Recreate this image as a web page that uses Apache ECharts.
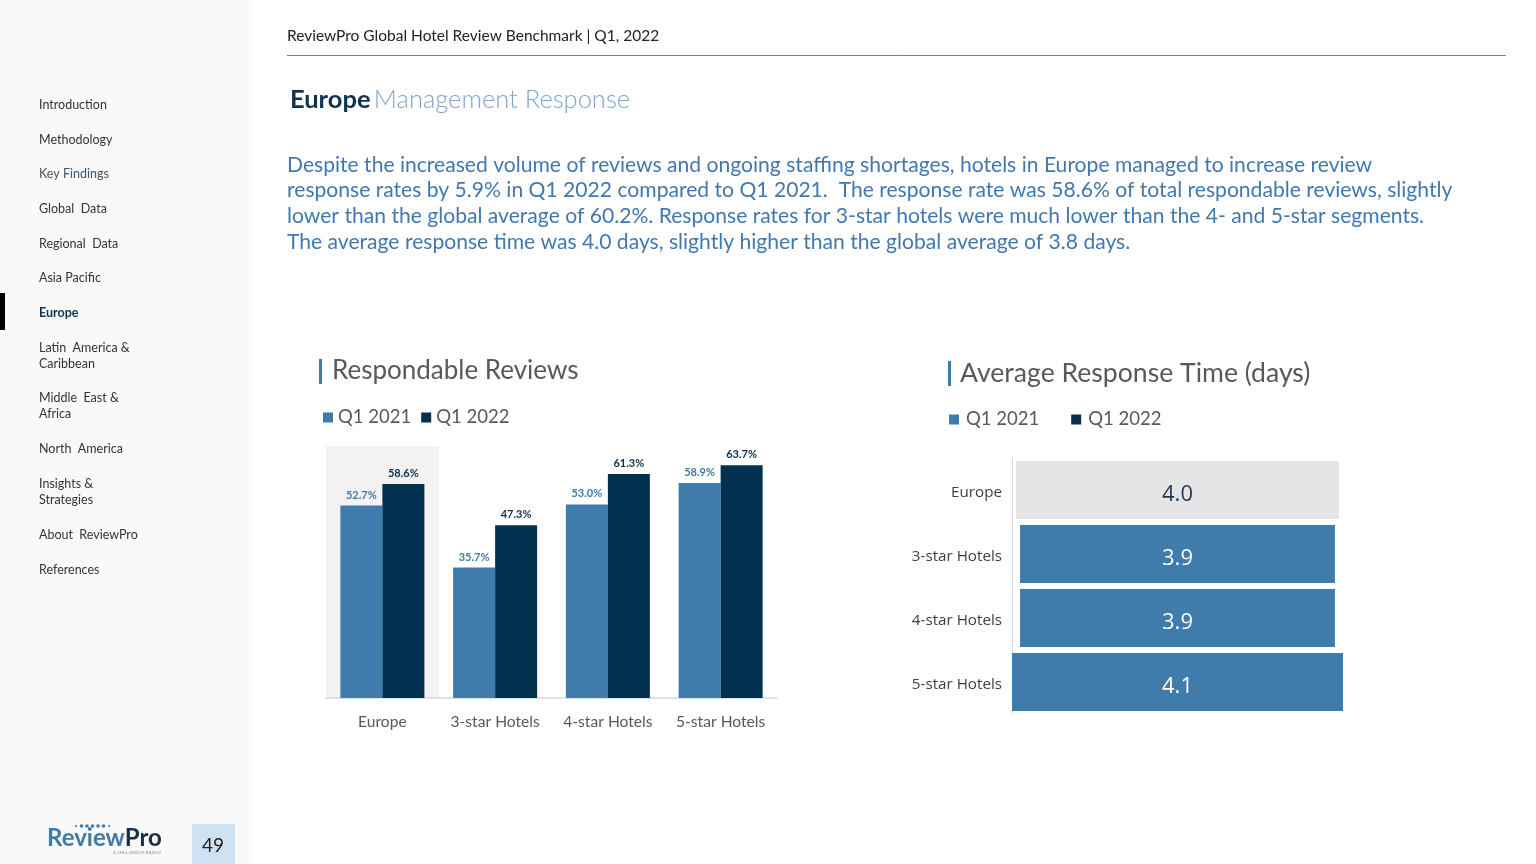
<!DOCTYPE html>
<html>
<head>
<meta charset="utf-8">
<script src="https://cdn.jsdelivr.net/npm/echarts@6/dist/echarts.min.js"></script>
<style>
html,body{margin:0;padding:0;background:#fff;}
#c{width:1536px;height:864px;}
</style>
</head>
<body>
<div id="c"></div>
<script>
// ---- data ----
const categories = ['Europe', '3-star Hotels', '4-star Hotels', '5-star Hotels'];
const seriesNames = ['Q1 2021', 'Q1 2022'];
const q1_2021 = [52.7, 35.7, 53.0, 58.9];
const q1_2022 = [58.6, 47.3, 61.3, 63.7];
const responseTime = [4.0, 3.9, 3.9, 4.1];
const navItems = [
  ['Introduction', 104], ['Methodology', 139], ['Key Findings', 173], ['Global  Data', 208],
  ['Regional  Data', 243], ['Asia Pacific', 277], ['Europe', 312], ['Latin  America &\nCaribbean', 355],
  ['Middle  East &\nAfrica', 405], ['North  America', 448], ['Insights &\nStrategies', 491],
  ['About  ReviewPro', 534], ['References', 569]
];
const paragraph = [
  'Despite the increased volume of reviews and ongoing staffing shortages, hotels in Europe managed to increase review',
  'response rates by 5.9% in Q1 2022 compared to Q1 2021.  The response rate was 58.6% of total respondable reviews, slightly',
  'lower than the global average of 60.2%. Response rates for 3-star hotels were much lower than the 4- and 5-star segments.',
  'The average response time was 4.0 days, slightly higher than the global average of 3.8 days.'
];

const C21 = '#3f7bab', C22 = '#02304f';
const rtMax = Math.max(...responseTime);
const rtOffset = responseTime.map(v => +((rtMax - v) / 2).toFixed(3));

const chart = echarts.init(document.getElementById('c'));

const g = [];
g.push({type:'rect', shape:{x:0,y:0,width:252,height:864}, style:{fill:'#f9f9f9'}, z:-10});
navItems.forEach(([t, y]) => {
  const active = t === 'Europe';
  g.push({type:'text', x:39, y:y + 1, style:{text:t, fontFamily:'Lato', fontSize:12.5, lineHeight:16,
    fontWeight: active ? 'bold' : 'normal', fill: active ? '#0f3350' : (t==='Key Findings' ? '#3e5468' : '#333333'),
    verticalAlign:'middle'}});
});
g.push({type:'rect', shape:{x:0,y:293,width:5,height:37}, style:{fill:'#000'}});
// logo
[76,81.5,87,92.5,98,103.5,109].forEach((x,i)=>{
  g.push({type:'circle', shape:{cx:x, cy:826, r:(i===0||i===6)?1.1:1.8}, style:{fill:C21}});
});
g.push({type:'text', x:47, y:838, style:{text:'{a|Review}{b|Pro}', verticalAlign:'middle',
  rich:{a:{fontFamily:'Lato', fontWeight:'bold', fontSize:24, fill:'#3f7bab'},
        b:{fontFamily:'Lato', fontWeight:'bold', fontSize:24, fill:'#1a2e45'}}}});
g.push({type:'text', x:113, y:852.5, style:{text:'A SHIJI GROUP BRAND', fontFamily:'Lato', fontSize:4.5, fill:'#999', verticalAlign:'middle'}});
g.push({type:'rect', shape:{x:192,y:824,width:43,height:40}, style:{fill:'#cfe2f3'}});
g.push({type:'text', x:213, y:846, style:{text:'49', fontFamily:'Lato', fontSize:19, fill:'#222', align:'center', verticalAlign:'middle'}});
// header
g.push({type:'text', x:287, y:36, style:{text:'ReviewPro Global Hotel Review Benchmark | Q1, 2022', fontFamily:'Lato', fontSize:15.5, fill:'#222', verticalAlign:'middle'}});
g.push({type:'line', shape:{x1:287,y1:55.5,x2:1506,y2:55.5}, style:{stroke:'#7f7f7f', lineWidth:1}});
g.push({type:'text', x:290, y:100, style:{text:'{a|Europe} {b|Management Response}', verticalAlign:'middle',
  rich:{a:{fontFamily:'Lato', fontWeight:'bold', fontSize:25.5, fill:'#0f3350'},
        b:{fontFamily:'Lato', fontWeight:300, fontSize:25.5, fill:'#7ea6cf'}}}});
paragraph.forEach((t,i)=>{
  g.push({type:'text', x:287, y:165 + i*25.6, style:{text:t, fontFamily:'Lato', fontSize:21.1, fill:'#4178b0', verticalAlign:'middle'}});
});
// chart titles
g.push({type:'rect', shape:{x:319,y:359,width:3,height:25}, style:{fill:C21}});
g.push({type:'text', x:332, y:371, style:{text:'Respondable Reviews', fontFamily:'Lato', fontSize:26, fill:'#595959', verticalAlign:'middle'}});
g.push({type:'rect', shape:{x:948,y:361,width:3,height:25}, style:{fill:C21}});
g.push({type:'text', x:960, y:373, style:{text:'Average Response Time (days)', fontFamily:'Lato', fontSize:26.6, fill:'#595959', verticalAlign:'middle'}});

const legendText = {fontFamily:'Lato', fontSize:18.5, color:'#595959'};

chart.setOption({
  animation:false,
  textStyle:{fontFamily:'Lato'},
  graphic:{elements:g},
  legend:[
    {data:seriesNames, left:323, top:408, padding:0, icon:'rect', itemWidth:10, itemHeight:10, itemGap:10, textStyle:legendText, selectedMode:false},
    {data:seriesNames, left:949, top:410, padding:0, icon:'rect', itemWidth:10, itemHeight:10, itemGap:32, textStyle:{...legendText, padding:[0,0,0,2]}, selectedMode:false}
  ],
  grid:[
    {left:326, top:446, width:451, height:252},
    {left:1012, top:458, width:331, height:256}
  ],
  xAxis:[
    {type:'category', gridIndex:0, data:categories,
     axisLine:{lineStyle:{color:'#d9d9d9', width:1.5}}, axisTick:{show:false},
     axisLabel:{interval:0, fontFamily:'Lato', fontSize:15.6, color:'#595959', margin:16},
     splitArea:{show:true, interval:0, areaStyle:{color:['#f3f1f2','rgba(0,0,0,0)','rgba(0,0,0,0)','rgba(0,0,0,0)']}}},
    {type:'value', gridIndex:1, min:0, max:rtMax, show:false}
  ],
  yAxis:[
    {type:'value', gridIndex:0, min:0, max:69, show:false},
    {type:'category', gridIndex:1, data:categories, inverse:true,
     axisLine:{lineStyle:{color:'#d9d9d9'}}, axisTick:{show:false},
     axisLabel:{margin:10, formatter:v=>'{a|'+v+'}',
       rich:{a:{fontFamily:'Open Sans', fontSize:15.2, color:'#404040', padding:[6,0,0,0]}}}}
  ],
  series:[
    {name:seriesNames[0], type:'bar', xAxisIndex:0, yAxisIndex:0, data:q1_2021, barWidth:42, barGap:'0%',
     itemStyle:{color:C21},
     label:{show:true, position:'top', distance:5, fontFamily:'Lato', fontWeight:'bold', fontSize:11, color:C21,
       formatter:p=>p.value.toFixed(1)+'%'}},
    {name:seriesNames[1], type:'bar', xAxisIndex:0, yAxisIndex:0, data:q1_2022, barWidth:42, barGap:'0%',
     itemStyle:{color:C22},
     label:{show:true, position:'top', distance:5, fontFamily:'Lato', fontWeight:'bold', fontSize:11, color:'#0d2f4d',
       formatter:p=>p.value.toFixed(1)+'%'}},
    {name:'offset', type:'bar', xAxisIndex:1, yAxisIndex:1, stack:'rt', data:rtOffset, barWidth:58,
     itemStyle:{color:'rgba(0,0,0,0)'}, silent:true},
    {name:'time', type:'bar', xAxisIndex:1, yAxisIndex:1, stack:'rt', barWidth:58,
     data:responseTime.map((v,i)=>({value:v, itemStyle:{color: i===0 ? '#e6e5e6' : C21},
       label:{color: i===0 ? '#1f3a55' : '#ffffff'}})),
     label:{show:true, position:'inside', offset:[0,5], fontFamily:'Open Sans', fontSize:22, formatter:p=>p.value.toFixed(1)}}
  ]
});
</script>
</body>
</html>
